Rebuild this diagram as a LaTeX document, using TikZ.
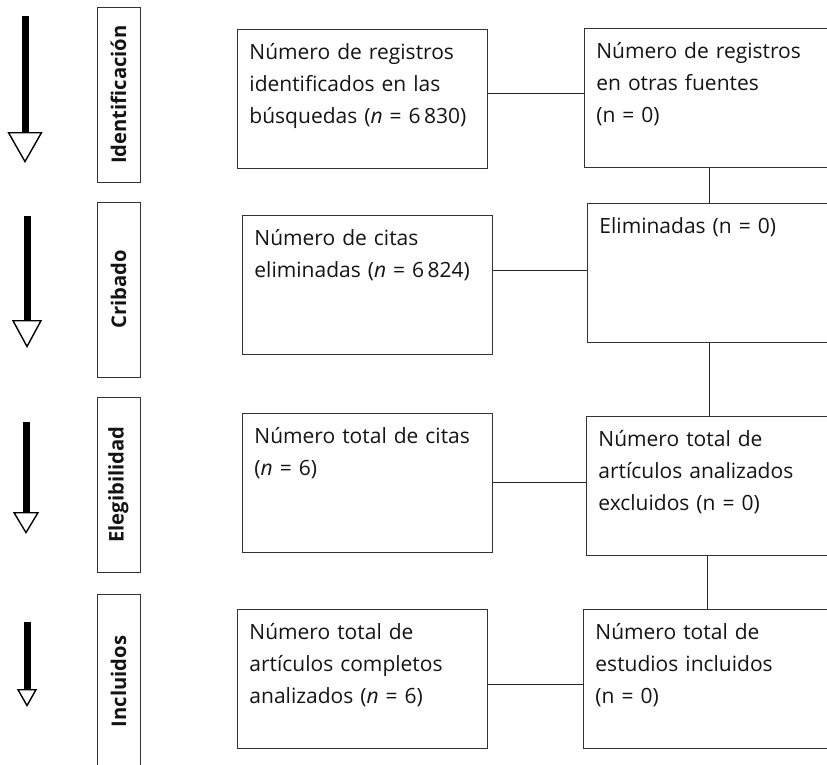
\documentclass[tikz,border=0pt]{standalone}
\usepackage{fontspec}
\setmainfont{Open Sans}
\usetikzlibrary{arrows.meta, positioning, calc}
\tikzset{
	every node/.style={
		font=\fontsize{21}{32}\selectfont,
		text=black!92
	},
	caja/.style={
		shape=rectangle,
		draw=black!80,
		line width=0.9pt,
		anchor=north west,
		inner xsep=12pt,
		inner ysep=0pt,
		text width=#1,
		text height=30pt,
		text depth=109pt,
		align=left
	},
	caja/.default=226pt,
	etapa/.style={
		shape=rectangle,
		draw=black!80,
		line width=0.9pt,
		inner sep=0pt,
		minimum width=175pt,
		minimum height=43pt,
		rotate=90,
		font=\fontsize{20.2}{24}\selectfont\bfseries
	},
	flecha/.style n args={3}{
		line width=#1,
		-{Triangle[open, line width=1.4pt, width=#2, length=#3]}
	},
	linea/.style={
		draw=black!85,
		line width=0.9pt
	}
}

\begin{document}
\begin{tikzpicture}[x=1pt, y=-1pt]
	\useasboundingbox (0,0) rectangle (827,764);
	\clip (0,0) rectangle (827,764);

	% flechas de etapa
	\draw[flecha={7pt}{35pt}{31pt}] (25,16) -- (25,163);
	\draw[flecha={7pt}{30pt}{28pt}] (27,216) -- (27,348);
	\draw[flecha={7pt}{26pt}{22pt}] (26,422) -- (26,534);
	\draw[flecha={7pt}{20pt}{18pt}] (27,622) -- (27,707);

	% etapas
	\node[etapa] (ident) at (118.5,94.5)  {Identificación};
	\node[etapa] (criba) at (118.5,289.5) {Cribado};
	\node[etapa] (elegi) at (118.5,484.5) {Elegibilidad};
	\node[etapa] (inclu) at (118.5,681.5) {Incluidos};

	% columna izquierda
	\node[caja] (busq)  at (237,29)  {Número de registros\\identificados en las\\búsquedas (\textit{n} = 6\,830)};
	\node[caja] (citas) at (242,215) {Número de citas\\eliminadas (\textit{n} = 6\,824)};
	\node[caja] (total) at (242,413) {Número total de citas\\(\textit{n} = 6)};
	\node[caja] (compl) at (237,609) {Número total de\\artículos completos\\analizados (\textit{n} = 6)};

	% columna derecha
	\node[caja=260pt] (otras) [right=96pt of busq.north east, anchor=north west, yshift=1pt] {Número de registros\\en otras fuentes\\(n = 0)};
	\node[caja=260pt] (elim)  at (587,203) {Eliminadas (n = 0)};
	\node[caja=260pt] (excl)  at (586,416) {Número total de\\artículos analizados\\excluidos (n = 0)};
	\node[caja=260pt] (estud) at (583,609) {Número total de\\estudios incluidos\\(n = 0)};

	% conexiones
	\draw[linea] (busq.east |- 0,93)  -- (otras.west |- 0,93);
	\draw[linea] (citas.east |- 0,270) -- (elim.west |- 0,270);
	\draw[linea] (total.east |- 0,482) -- (excl.west |- 0,482);
	\draw[linea] (compl.east |- 0,684) -- (estud.west |- 0,684);
	\draw[linea] (otras.south -| 709,0) -- (elim.north -| 709,0);
	\draw[linea] (elim.south -| 709,0)  -- (excl.north -| 709,0);
	\draw[linea] (excl.south -| 707,0)  -- (estud.north -| 707,0);
\end{tikzpicture}
\end{document}
